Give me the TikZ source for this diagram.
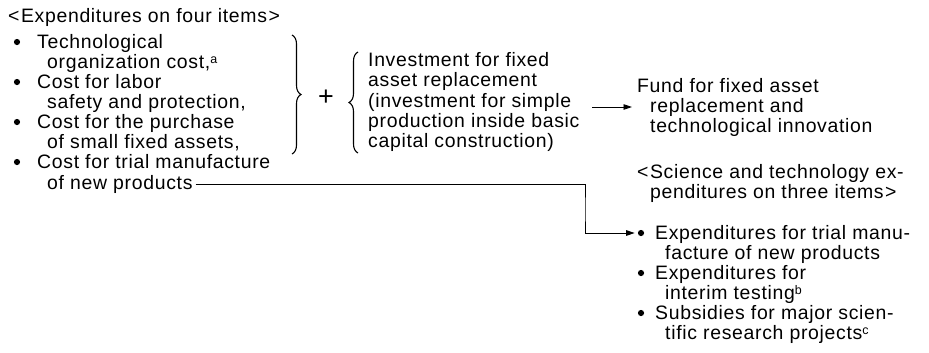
\documentclass[tikz,border=0pt]{standalone}
\usepackage{fontspec}
\setmainfont{Liberation Sans}[LetterSpace=3.5]
\usetikzlibrary{decorations.pathreplacing,arrows.meta}
\newcommand{\supmark}[1]{\raisebox{4.5bp}{\fontsize{12.5}{12.5}\selectfont #1}}
\begin{document}
\begin{tikzpicture}[x=1bp,y=-1bp,
  txt/.style={anchor=base west,inner sep=0pt,font=\fontsize{19.5}{20}\selectfont},
  conn/.style={line width=0.9bp},
  arr/.style={-{Triangle[length=8.5bp,width=5.5bp]}},
  brc/.style={line width=1.1bp,decorate,decoration={brace,amplitude=9bp}},
  dot/.style={circle,fill,inner sep=0pt,minimum size=6.2bp}]
\useasboundingbox[fill=white] (0,0) rectangle (929,352);
% left column
\node[txt] (hd) at (8,22) {<\kern1.5bp Expenditures on four items\kern1.5bp>};
\node[dot] (d1) at (17,42) {};
\node[txt] (t1a) at (37,48) {Technological};
\node[txt] (t1b) at (47,68) {organization cost,\supmark{a}};
\node[dot] (d2) at (17,82) {};
\node[txt] (t2a) at (37,88) {Cost for labor};
\node[txt] (t2b) at (47,108) {safety and protection,};
\node[dot] (d3) at (17,122) {};
\node[txt] (t3a) at (37,128) {Cost for the purchase};
\node[txt] (t3b) at (47,148) {of small fixed assets,};
\node[dot] (d4) at (17,162) {};
\node[txt] (t4a) at (37,168) {Cost for trial manufacture};
\node[txt] (t4b) at (47,189) {of new products};
% braces and plus
\coordinate (b1t) at (292,35);
\coordinate (b1b) at (292,154);
\draw[brc] (b1t) -- (b1b);
\node[inner sep=0pt,font=\fontsize{27}{27}\selectfont] (plus) at (326,98) {+};
\coordinate (b2t) at (358,52);
\coordinate (b2b) at (358,153);
\draw[brc] (b2b) -- (b2t);
% investment block
\node[txt] (i1) at (368,66) {Investment for fixed};
\node[txt] (i2) at (368,86) {asset replacement};
\node[txt] (i3) at (368,107) {(investment for simple};
\node[txt] (i4) at (368,127) {production inside basic};
\node[txt] (i5) at (368,147) {capital construction)};
% fund block
\node[txt] (f1) at (637,92) {Fund for fixed asset};
\node[txt] (f2) at (650,112) {replacement and};
\node[txt] (f3) at (650,132) {technological innovation};
\coordinate (a1) at (592,107);
\coordinate (a2) at (632,107);
\draw[conn,arr] (a1) -- (a2);
% science header
\node[txt] (s1) at (637,178) {<\kern1.5bp Science and technology ex-};
\node[txt] (s2) at (650,198) {penditures on three items\kern1.5bp>};
% right items
\node[dot] (r1) at (641,233) {};
\node[txt] (r1a) at (655,239) {Expenditures for trial manu-};
\node[txt] (r1b) at (665,259) {facture of new products};
\node[dot] (r2) at (641,273) {};
\node[txt] (r2a) at (655,279) {Expenditures for};
\node[txt] (r2b) at (665,299) {interim testing\supmark{b}};
\node[dot] (r3) at (641,313) {};
\node[txt] (r3a) at (655,319) {Subsidies for major scien-};
\node[txt] (r3b) at (665,339) {tific research projects\supmark{c}};
% connector
\coordinate (c1) at ([xshift=3bp,yshift=5bp]t4b.base east);
\coordinate (k) at (585,210);
\draw[conn,arr] (c1) -| (k) |- ([xshift=-3bp]r1.west);
\end{tikzpicture}
\end{document}
